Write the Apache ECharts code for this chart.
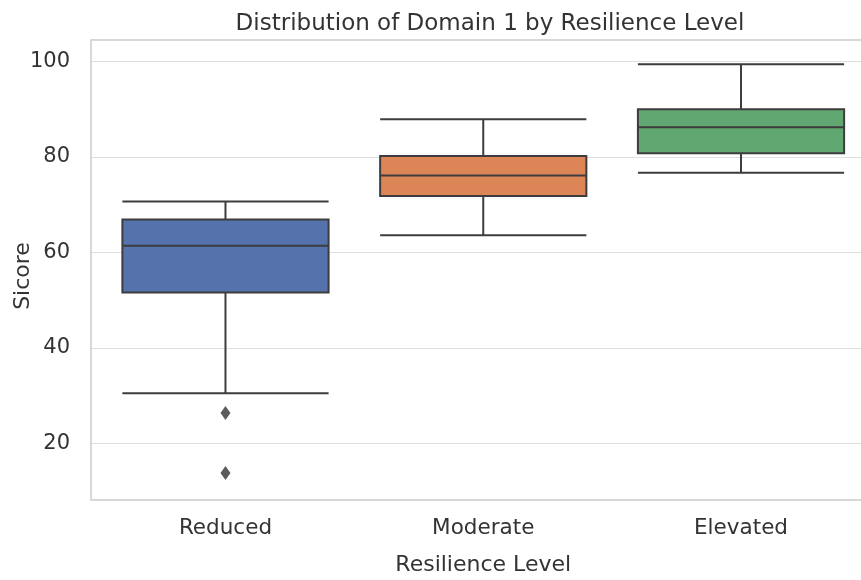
<!DOCTYPE html>
<html>
<head>
<meta charset="utf-8">
<script src="https://cdn.jsdelivr.net/npm/echarts@6/dist/echarts.min.js"></script>
<style>html,body{margin:0;padding:0;background:#fff;overflow:hidden;width:861px;height:580px}#c{width:880px;height:580px}</style>
</head>
<body>
<div id="c"></div>
<script>
const categories = ['Reduced', 'Moderate', 'Elevated'];
// [lower whisker, Q1, median, Q3, upper whisker]
const reducedBox = [30.5, 51.6, 61.4, 66.9, 70.7];
const moderateBox = [63.6, 71.8, 76.1, 80.2, 87.9];
const elevatedBox = [76.7, 80.8, 86.2, 90.0, 99.4];
const outliers = [['Reduced', 26.4], ['Reduced', 13.8]];
const yTicks = [20, 40, 60, 80, 100];
const boxColors = ['#5572ad', '#dc8657', '#60a771'];

const FONT = 'DejaVu Sans';
const Y_MIN = 8.3, Y_MAX = 104.5;
const FRAME = {show: true, lineStyle: {color: '#cccccc', width: 1.5}};
const chart = echarts.init(document.getElementById('c'), null, {renderer: 'canvas'});
const boxData = [reducedBox, moderateBox, elevatedBox].map((v, i) => ({
  value: v,
  itemStyle: {color: boxColors[i], borderColor: '#3d3d3d', borderWidth: 2}
}));
chart.setOption({
  animation: false,
  backgroundColor: '#ffffff',
  title: {
    text: 'Distribution of Domain 1 by Resilience Level',
    left: 485, top: 8, textAlign: 'center',
    textStyle: {fontFamily: FONT, fontSize: 23, fontWeight: 'normal', color: '#333333'}
  },
  graphic: [{
    type: 'text', x: 23, y: 276, rotation: Math.PI / 2,
    style: {text: 'Sicore', fontFamily: FONT, fontSize: 22, fill: '#333333', align: 'center', verticalAlign: 'middle'}
  }],
  grid: [
    {left: 91, top: 40, width: 776, height: 459.3, outerBoundsMode: 'none', containLabel: false, show: false},
    {left: 96.6, top: 40, width: 773.3, height: 459.3, outerBoundsMode: 'none', containLabel: false, show: false}
  ],
  xAxis: [
    {type: 'value', gridIndex: 0, position: 'top', min: 0, max: 1, axisLine: FRAME,
     axisTick: {show: false}, axisLabel: {show: false}, splitLine: {show: false}},
    {type: 'value', gridIndex: 0, position: 'bottom', min: 0, max: 1, axisLine: FRAME,
     axisTick: {show: false}, axisLabel: {show: false}, splitLine: {show: false}},
    {
      type: 'category', gridIndex: 1, data: categories,
      name: 'Resilience Level', nameLocation: 'middle', nameGap: 55,
      nameTextStyle: {fontFamily: FONT, fontSize: 22, color: '#333333'},
      axisLine: {show: false}, axisTick: {show: false},
      axisLabel: {fontFamily: FONT, fontSize: 21.5, color: '#333333', margin: 18},
      splitLine: {show: false}
    }
  ],
  yAxis: [
    {
      type: 'value', gridIndex: 0, min: Y_MIN, max: Y_MAX,
      axisLine: FRAME,
      axisTick: {show: false, customValues: yTicks},
      axisLabel: {fontFamily: FONT, fontSize: 21, color: '#333333', margin: 21, customValues: yTicks},
      splitLine: {show: true, lineStyle: {color: '#dedede', width: 1.2}}
    },
    {type: 'value', gridIndex: 1, min: Y_MIN, max: Y_MAX, show: false, splitLine: {show: false}}
  ],
  series: [
    {type: 'boxplot', xAxisIndex: 2, yAxisIndex: 1, data: boxData, boxWidth: ['80%', '80%'], z: 3},
    {type: 'scatter', xAxisIndex: 2, yAxisIndex: 1, data: outliers, symbol: 'diamond', symbolSize: [10, 14],
     itemStyle: {color: '#333333'}, z: 4}
  ]
});
</script>
</body>
</html>
